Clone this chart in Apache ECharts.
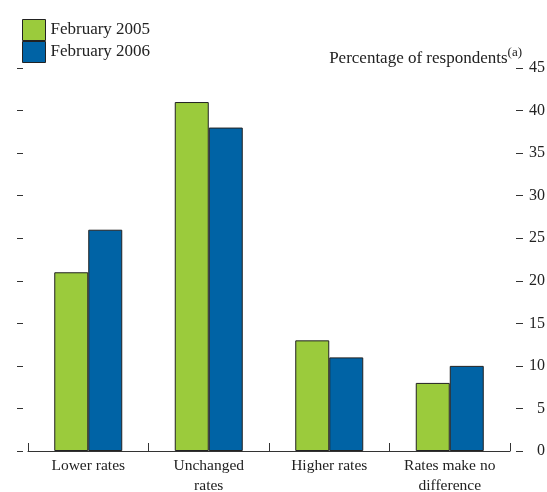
<!DOCTYPE html>
<html><head><meta charset="utf-8">
<script src="https://cdn.jsdelivr.net/npm/echarts@6/dist/echarts.min.js"></script>
<style>html,body{margin:0;padding:0;background:#fff}#c{width:547px;height:492px}</style>
</head><body><div id="c"></div>
<script>
const categories = ['Lower rates', 'Unchanged\nrates', 'Higher rates', 'Rates make no\ndifference'];
const feb2005 = [21, 41, 13, 8];
const feb2006 = [26, 38, 11, 10];
const seriesNames = ['February 2005', 'February 2006'];
const yTicks = [0, 5, 10, 15, 20, 25, 30, 35, 40, 45];

const FONT = 'Liberation Serif';
const chart = echarts.init(document.getElementById('c'), null, {renderer: 'canvas'});
chart.setOption({
  animation: false,
  textStyle: {fontFamily: FONT},
  legend: {
    orient: 'vertical', left: 17, top: 14, itemWidth: 23, itemHeight: 21, itemGap: 0,
    icon: 'rect',
    textStyle: {fontFamily: FONT, fontSize: 17, color: '#222'},
    itemStyle: {borderColor: '#222', borderWidth: 1},
    data: seriesNames
  },
  graphic: [{
    type: 'text', right: 25, top: 46,
    style: {
      text: '{a|Percentage of respondents}{b|(a)}',
      rich: {
        a: {fontFamily: FONT, fontSize: 17, fill: '#222', verticalAlign: 'bottom'},
        b: {fontFamily: FONT, fontSize: 13, fill: '#222', verticalAlign: 'top', padding: [0, 0, 8, 0]}
      }
    }
  }],
  grid: {left: 28, right: 37, top: 68, bottom: 41, containLabel: false, outerBoundsMode: 'none'},
  xAxis: {
    type: 'category', data: categories,
    axisLine: {lineStyle: {color: '#333', width: 1}},
    axisTick: {show: true, inside: true, length: 8, lineStyle: {color: '#333'}},
    axisLabel: {fontFamily: FONT, fontSize: 15.5, color: '#222', lineHeight: 20, margin: 5, interval: 0}
  },
  yAxis: [{
    type: 'value', min: 0, max: 45, interval: 5, position: 'left', offset: 5,
    axisLine: {show: false}, splitLine: {show: false},
    axisTick: {show: true, length: 6, lineStyle: {color: '#333'}},
    axisLabel: {show: false}
  }, {
    type: 'value', min: 0, max: 45, interval: 5, position: 'right', offset: 6,
    axisLine: {show: false}, splitLine: {show: false},
    axisTick: {show: true, length: 7, lineStyle: {color: '#333'}},
    axisLabel: {fontFamily: FONT, fontSize: 16, color: '#222', margin: 29, align: 'right',
      formatter: v => yTicks.includes(v) ? String(v) : ''}
  }],
  series: [{
    name: seriesNames[0], type: 'bar', data: feb2005, barWidth: 34, barGap: '0%',
    itemStyle: {color: '#9BCB3C', borderColor: '#222', borderWidth: 1}
  }, {
    name: seriesNames[1], type: 'bar', data: feb2006, barWidth: 34, barGap: '0%',
    itemStyle: {color: '#0063A5', borderColor: '#222', borderWidth: 1}
  }]
});
</script></body></html>
